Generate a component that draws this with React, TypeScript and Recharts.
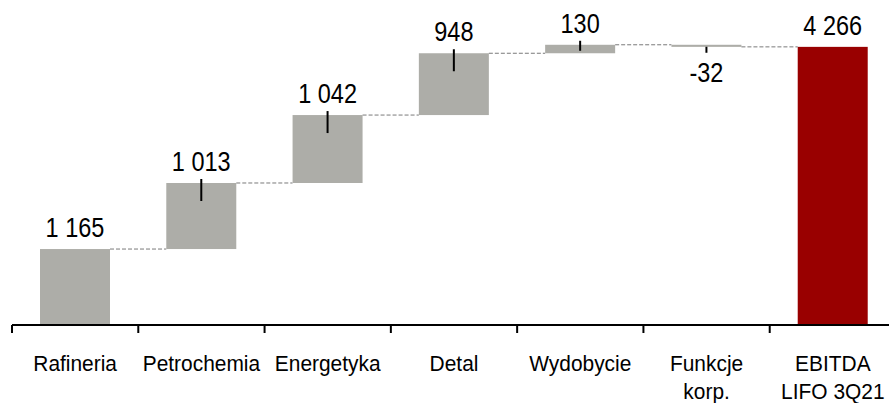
import { BarChart, Bar, XAxis, YAxis } from 'recharts'

const CATEGORIES = ['Rafineria', 'Petrochemia', 'Energetyka', 'Detal', 'Wydobycie', 'Funkcje\nkorp.', 'EBITDA\nLIFO 3Q21']
const DELTAS = [1165, 1013, 1042, 948, 130, -32, 4266]
const IS_TOTAL = [false, false, false, false, false, false, true]
const VALUE_LABELS = ['1 165', '1 013', '1 042', '948', '130', '-32', '4 266']

const W = 900
const H = 403
const LEFT = 12
const RIGHT = 4
const TOP = 20
const AXIS_H = 78
const AXIS_Y = H - AXIS_H
const BAND = (W - LEFT - RIGHT) / CATEGORIES.length

const GREY = '#adada8'
const RED = '#990000'
const FONT = "'Liberation Sans', Arial, sans-serif"

let running = 0
const data = CATEGORIES.map((name, i) => {
  let low: number
  let high: number
  if (IS_TOTAL[i]) {
    low = 0
    high = DELTAS[i]
    running = DELTAS[i]
  } else {
    const next = running + DELTAS[i]
    low = Math.min(running, next)
    high = Math.max(running, next)
    running = next
  }
  return { name, low, high, delta: DELTAS[i], total: IS_TOTAL[i], label: VALUE_LABELS[i] }
})

function WaterfallShape(props: any) {
  const { x, y, width, height, index, payload } = props
  const top = Math.min(y, y + height)
  const h = Math.abs(height)
  const cx = x + width / 2
  const neg = payload.delta < 0
  const endY = neg ? top + h : top
  const last = index === data.length - 1

  let marker = null
  if (index > 0 && !payload.total) {
    const y1 = neg ? top + 2 : top - 4
    const y2 = neg ? top + 8 : h > 30 ? top + 18 : top + 6
    marker = <line x1={cx} x2={cx} y1={y1} y2={y2} stroke="#000" strokeWidth={2} />
  }

  const ly = neg ? top + h + 35 : top - 12
  return (
    <g>
      <rect x={x} y={top} width={width} height={Math.max(h, 1)} fill={payload.total ? RED : GREY} />
      {!last && (
        <line
          x1={x + width}
          x2={x + BAND}
          y1={endY}
          y2={endY}
          stroke="#7a7a7a"
          strokeWidth={1}
          strokeDasharray="4 2"
        />
      )}
      {marker}
      <text
        transform={`translate(${cx},${ly}) scale(0.84,1)`}
        textAnchor="middle"
        fontFamily={FONT}
        fontSize={28}
        fill="#000"
      >
        {payload.label}
      </text>
    </g>
  )
}

function CategoryTick(props: any) {
  const { x, payload } = props
  const lines = String(payload.value).split('\n')
  return (
    <g>
      <line x1={x - BAND / 2} x2={x - BAND / 2} y1={AXIS_Y} y2={AXIS_Y + 8} stroke="#000" strokeWidth={2} />
      {lines.map((l, i) => (
        <text
          key={i}
          transform={`translate(${x},${371 + i * 28}) scale(0.93,1)`}
          textAnchor="middle"
          fontFamily={FONT}
          fontSize={22.5}
          fill="#000"
        >
          {l}
        </text>
      ))}
    </g>
  )
}

export default function App() {
  return (
    <div style={{ position: 'fixed', left: 0, top: 0, width: 889, height: 403, overflow: 'hidden', background: '#fff' }}>
      <BarChart width={W} height={H} data={data} margin={{ top: TOP, right: RIGHT, left: LEFT, bottom: 0 }}>
        <XAxis
          dataKey="name"
          height={AXIS_H}
          tickLine={false}
          axisLine={{ stroke: '#000', strokeWidth: 2 }}
          tick={<CategoryTick />}
          interval={0}
        />
        <YAxis hide width={0} domain={[0, 4678]} />
        <Bar
          dataKey={(d: any) => [d.low, d.high]}
          barSize={70}
          shape={<WaterfallShape />}
          isAnimationActive={false}
        />
      </BarChart>
    </div>
  )
}
